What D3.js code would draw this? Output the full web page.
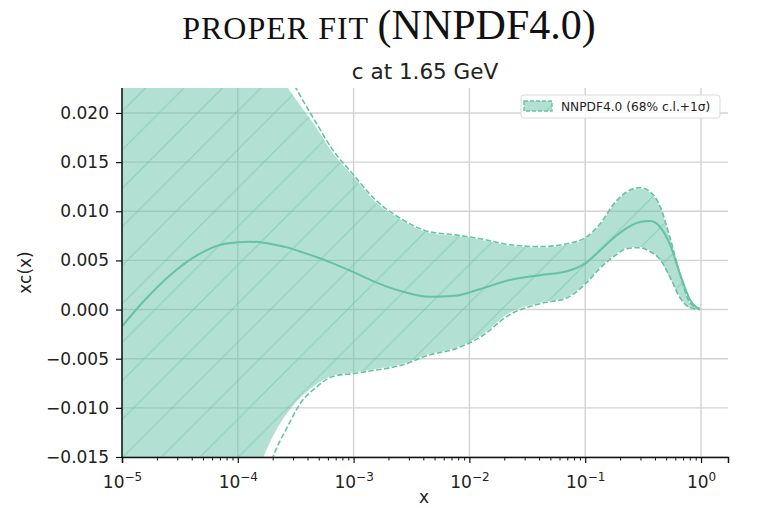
<!DOCTYPE html>
<html>
<head>
<meta charset="utf-8">
<script src="https://cdn.jsdelivr.net/npm/d3@7"></script>
<style>
  body { margin: 0; background: #fff; }
  svg { display: block; font-family: "DejaVu Sans", sans-serif; }
</style>
</head>
<body>
<div id="chart"></div>
<script>
// values (x on a log axis)
const xs = [1.0e-5, 1.58e-5, 2.6e-5, 4.72e-5, 7.75e-5, 1.27e-4, 2.09e-4, 2.72e-4, 3.44e-4, 4.64e-4,
  6.64e-4, 1.0e-3, 1.47e-3, 2.52e-3, 4.57e-3, 7.52e-3, 1.24e-2, 2.24e-2, 4.07e-2, 6.97e-2,
  0.1, 0.134, 0.181, 0.230, 0.297, 0.363, 0.443, 0.540, 0.659, 0.803, 0.98];
const central = [-0.0017, 0.0010, 0.0035, 0.0057, 0.0067, 0.0069, 0.0066, 0.0063, 0.0059, 0.0054,
  0.0047, 0.0038, 0.0029, 0.0019, 0.0013, 0.0014, 0.0021, 0.0030, 0.0035, 0.0039,
  0.0047, 0.0060, 0.0074, 0.0083, 0.0089, 0.0090, 0.0084, 0.0066, 0.0036, 0.0010, 0.0000];
const upper68 = [0.075, 0.062, 0.050, 0.039, 0.032, 0.027, 0.0240, 0.0225, 0.0208, 0.0187,
  0.0159, 0.0135, 0.0112, 0.0092, 0.0078, 0.0075, 0.0071, 0.0065, 0.0063, 0.0066,
  0.0072, 0.0086, 0.0108, 0.0119, 0.0123, 0.0119, 0.0104, 0.0072, 0.0035, 0.0007, 0.0001];
const lower68 = [-0.080, -0.065, -0.050, -0.036, -0.026, -0.0185, -0.0125, -0.0104, -0.0090, -0.0077,
  -0.0067, -0.0064, -0.0061, -0.0056, -0.0045, -0.0039, -0.0027, -0.0003, 0.0007, 0.0013,
  0.0027, 0.0043, 0.0056, 0.0063, 0.0064, 0.0060, 0.0051, 0.0032, 0.0013, 0.0002, 0.0000];
const upper1s = [0.085, 0.070, 0.057, 0.045, 0.037, 0.031, 0.0265, 0.0240, 0.0218, 0.0192,
  0.0162, 0.0137, 0.0114, 0.0093, 0.0079, 0.0076, 0.0072, 0.0066, 0.0064, 0.0067,
  0.0073, 0.0087, 0.0109, 0.0120, 0.0124, 0.0120, 0.0105, 0.0073, 0.0036, 0.0007, 0.0001];
const lower1s = [-0.090, -0.073, -0.057, -0.042, -0.031, -0.0225, -0.0145, -0.0118, -0.0096, -0.0080,
  -0.0068, -0.0065, -0.0062, -0.0057, -0.0046, -0.0040, -0.0028, -0.0005, 0.0006, 0.0012,
  0.0026, 0.0042, 0.0055, 0.0062, 0.0063, 0.0059, 0.0051, 0.0033, 0.0012, 0.0002, 0.0000];

const xTicks = [1e-5, 1e-4, 1e-3, 1e-2, 1e-1, 1];
const xTickExps = ["\u22125", "\u22124", "\u22123", "\u22122", "\u22121", "0"];
const yTicks = [-0.015, -0.010, -0.005, 0.000, 0.005, 0.010, 0.015, 0.020];

const slideTitle = "PROPER FIT";
const slideTitleFit = "(NNPDF4.0)";
const plotTitle = "c at 1.65 GeV";
const legendLabel = "NNPDF4.0 (68% c.l.+1\u03c3)";

const width = 769;
const height = 508;
const margin = { top: 88, right: 41, bottom: 51, left: 122 };
const color = "#66c2a5";
const font = "'DejaVu Sans', sans-serif";

const svg = d3.select("#chart")
  .append("svg")
  .attr("width", width)
  .attr("height", height);

const x = d3.scaleLog()
  .domain([1e-5, Math.pow(10, 0.233)])
  .range([margin.left, width - margin.right]);
const y = d3.scaleLinear()
  .domain([-0.015, 0.02254])
  .range([height - margin.bottom, margin.top]);

// hatch pattern and clip
const defs = svg.append("defs");
const s = 38.5;
const hatch = defs.append("pattern")
  .attr("id", "hatch")
  .attr("patternUnits", "userSpaceOnUse")
  .attr("x", 2.5).attr("y", 0)
  .attr("width", s).attr("height", s);
hatch.append("path")
  .attr("d", `M0,${s}L${s},0M-2,2L2,-2M${s - 2},${s + 2}L${s + 2},${s - 2}`)
  .attr("stroke", color)
  .attr("stroke-opacity", 0.55)
  .attr("stroke-width", 1);

defs.append("clipPath").attr("id", "plot-clip")
  .append("rect")
  .attr("x", margin.left)
  .attr("y", margin.top)
  .attr("width", width - margin.left - margin.right)
  .attr("height", height - margin.top - margin.bottom);

// grid
const grid = svg.append("g");
grid.selectAll(".hgrid").data(yTicks).enter().append("line")
  .attr("x1", margin.left).attr("x2", width - margin.right)
  .attr("y1", d => y(d)).attr("y2", d => y(d))
  .attr("stroke", "#d3d3d3").attr("stroke-width", 1.4);
grid.selectAll(".vgrid").data(xTicks).enter().append("line")
  .attr("x1", d => x(d)).attr("x2", d => x(d))
  .attr("y1", margin.top).attr("y2", height - margin.bottom)
  .attr("stroke", "#d3d3d3").attr("stroke-width", 1.4);

const pts = xs.map((d, i) => ({ x: d, c: central[i], lo: lower68[i], hi: upper68[i], lo1: lower1s[i], hi1: upper1s[i] }));

const area = d3.area()
  .x(d => x(d.x))
  .y0(d => y(d.lo))
  .y1(d => y(d.hi))
  .curve(d3.curveMonotoneX);

const plot = svg.append("g").attr("clip-path", "url(#plot-clip)");

plot.append("path").datum(pts)
  .attr("d", area)
  .attr("fill", color)
  .attr("fill-opacity", 0.5);
plot.append("path").datum(pts)
  .attr("d", area)
  .attr("fill", "url(#hatch)");

const line = key => d3.line()
  .x(d => x(d.x))
  .y(d => y(d[key]))
  .curve(d3.curveMonotoneX);

plot.append("path").datum(pts)
  .attr("d", line("c"))
  .attr("fill", "none")
  .attr("stroke", color)
  .attr("stroke-width", 2);

["hi1", "lo1"].forEach(k => {
  plot.append("path").datum(pts)
    .attr("d", line(k))
    .attr("fill", "none")
    .attr("stroke", color)
    .attr("stroke-width", 1.6)
    .attr("stroke-dasharray", "5.5,2.4");
});

// axes
const xAxis = svg.append("g")
  .attr("transform", `translate(0,${height - margin.bottom})`)
  .call(d3.axisBottom(x).tickValues(xTicks).tickSize(6).tickPadding(4).tickFormat(() => ""));

const minor = [];
for (let e = -5; e <= 0; e++) {
  for (let m = 2; m <= 9; m++) {
    const v = m * Math.pow(10, e);
    if (v <= x.domain()[1]) minor.push(v);
  }
}
svg.append("g")
  .attr("transform", `translate(0,${height - margin.bottom})`)
  .call(d3.axisBottom(x).tickValues(minor).tickSize(3.5).tickFormat(() => ""))
  .call(g => g.select(".domain").remove());

xAxis.selectAll(".tick text").each(function (d, i) {
  const t = d3.select(this)
    .attr("font-size", 17)
    .attr("fill", "#222")
    .attr("y", 19)
    .attr("dy", "0.71em");
  t.append("tspan").text("10");
  t.append("tspan").attr("font-size", 12).attr("dy", "-0.55em").text(xTickExps[i]);
});

const yAxis = svg.append("g")
  .attr("transform", `translate(${margin.left},0)`)
  .call(d3.axisLeft(y).tickValues(yTicks).tickSize(6).tickPadding(7).tickFormat(d3.format(".3f")));
yAxis.selectAll(".tick text").attr("font-size", 17).attr("fill", "#222");
yAxis.select(".domain").attr("d", `M0,${margin.top}V${height - margin.bottom}`);

[xAxis, yAxis].forEach(g => {
  g.attr("font-family", font);
  g.select(".domain").attr("stroke", "#111").attr("stroke-width", 1.5);
  g.selectAll(".tick line").attr("stroke", "#111").attr("stroke-width", 1.2);
});
svg.selectAll(".tick line").attr("stroke", "#111");

// labels
svg.append("text")
  .attr("x", (margin.left + width - margin.right) / 2)
  .attr("y", 79)
  .attr("text-anchor", "middle")
  .attr("font-size", 21.5)
  .attr("fill", "#222")
  .text(plotTitle);

svg.append("text")
  .attr("x", 424)
  .attr("y", 503)
  .attr("text-anchor", "middle")
  .attr("font-size", 17)
  .attr("fill", "#222")
  .text("x");

svg.append("text")
  .attr("transform", `translate(31,${(margin.top + height - margin.bottom) / 2}) rotate(-90)`)
  .attr("text-anchor", "middle")
  .attr("font-size", 17)
  .attr("fill", "#222")
  .text("xc(x)");

const head = svg.append("text")
  .attr("x", 389)
  .attr("y", 39)
  .attr("text-anchor", "middle")
  .attr("font-family", "'Liberation Serif', serif")
  .attr("fill", "#111");
head.append("tspan").attr("font-size", 32).attr("letter-spacing", 1).text(slideTitle + " ");
head.append("tspan").attr("font-size", 42).text(slideTitleFit);

// legend
const lg = svg.append("g");
lg.append("rect")
  .attr("x", 521).attr("y", 95)
  .attr("width", 199).attr("height", 23)
  .attr("rx", 3)
  .attr("fill", "#fff").attr("fill-opacity", 0.85)
  .attr("stroke", "#dadada");
lg.append("rect")
  .attr("x", 524).attr("y", 101).attr("width", 28).attr("height", 10)
  .attr("fill", color).attr("fill-opacity", 0.5);
lg.append("rect")
  .attr("x", 524).attr("y", 101).attr("width", 28).attr("height", 10)
  .attr("fill", "url(#hatch)")
  .attr("stroke", color).attr("stroke-width", 1.4)
  .attr("stroke-dasharray", "4,2");
lg.append("text")
  .attr("x", 561).attr("y", 110.5)
  .attr("font-size", 12.2)
  .attr("fill", "#222")
  .text(legendLabel);
</script>
</body>
</html>
